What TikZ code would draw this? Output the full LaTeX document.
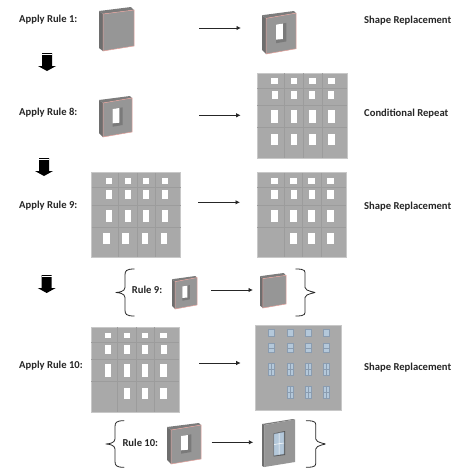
\documentclass[tikz,border=0pt]{standalone}
\usepackage{fontspec}
\setmainfont{Carlito}
\definecolor{wallface}{HTML}{969696}
\definecolor{wallside}{HTML}{6E6E6E}
\definecolor{walltop}{HTML}{7C7C7C}
\definecolor{recess}{HTML}{7A7A7A}
\definecolor{edgered}{HTML}{E6A09A}
\definecolor{facadefill}{HTML}{A9A9A9}
\definecolor{facadeline}{HTML}{9C9C9C}
\definecolor{facadeedge}{HTML}{C8C8C8}
\definecolor{frameblue}{HTML}{8A9CB0}
\definecolor{paneblue}{HTML}{B4C8DA}
\definecolor{inkdark}{HTML}{262626}
\usetikzlibrary{arrows.meta}
\tikzset{
  rulelabel/.style={font=\bfseries\fontsize{10.6}{12}\selectfont,text=inkdark,inner sep=0pt,anchor=west},
  flowarrow/.style={draw=inkdark,line width=0.9pt,-{Latex[length=4.5pt,width=4.5pt]}},
  bracestroke/.style={draw=inkdark,line width=0.8pt,line cap=round},
  redge/.style={draw=edgered,line width=0.5pt},
  winhole/.style={fill=white,draw=none},
  gridline/.style={draw=facadeline,line width=0.4pt},
  facadebody/.style={fill=facadefill,draw=facadeedge,line width=0.5pt},
  bluewin/.style={fill=paneblue,draw=frameblue,line width=0.7pt},
  blockarrow/.style={fill=black,draw=none}
}
% solid wall, local box 35 x 44
\newcommand{\solidwall}[4]{%
  \begin{scope}[shift={(#1,#2)},xscale=#3/35,yscale=#4/44]
    \fill[wallside] (0,4) -- (4,7) -- (4,44) -- (0,41) -- cycle;
    \fill[walltop] (0,4) -- (32,0) -- (35,3) -- (4,7) -- cycle;
    \fill[wallface] (4,7) -- (35,3) -- (35,39) -- (4,44) -- cycle;
    \draw[redge] (4,44) -- (4,7) -- (35,3) -- (35,39) -- cycle;
  \end{scope}}
% wall with opening, local box 33 x 41
\newcommand{\holewall}[4]{%
  \begin{scope}[shift={(#1,#2)},xscale=#3/33,yscale=#4/41]
    \fill[wallside] (0,4) -- (4,7) -- (4,41) -- (0,37) -- cycle;
    \fill[walltop] (0,4) -- (31,0) -- (33,2) -- (4,7) -- cycle;
    \fill[wallface] (4,7) -- (33,2) -- (33,36) -- (4,41) -- cycle;
    \fill[recess] (13.7,13) -- (23.7,11.3) -- (23.7,29) -- (13.7,30.7) -- cycle;
    \fill[winhole] (13.7,13) -- (20.3,12) -- (20.3,26.7) -- (13.7,27.3) -- cycle;
    \draw[redge] (4,41) -- (4,7) -- (33,2) -- (33,36) -- cycle;
  \end{scope}}
% facade, local box 90 x 85; #5 = list of bottom-row columns
\newcommand{\facade}[5]{%
  \begin{scope}[shift={(#1,#2)},xscale=#3/90,yscale=#4/85]
    \path[facadebody] (0,0) rectangle (90,85);
    \foreach \gy in {14.7,32.3,54.3} {\draw[gridline] (0,\gy) -- (90,\gy);}
    \foreach \gx in {26.7,45.7,64.4} {\draw[gridline] (\gx,0) -- (\gx,85);}
    \foreach \cx in {17.4,36.7,55,74} {
      \path[winhole] (\cx-3.3,5.3) rectangle (\cx+3.3,11);
      \path[winhole] (\cx-3.1,17.7) rectangle (\cx+3.1,26.3);
      \path[winhole] (\cx-3.3,37) rectangle (\cx+3.3,49.7);
    }
    \foreach \cx in {#5} {\path[winhole] (\cx-3.3,60.3) rectangle (\cx+3.3,72);}
  \end{scope}}
\newcommand{\blockdown}[3]{% centre x, top y, tip y
  \path[blockarrow] (#1-5,#2) -- (#1+5,#2) -- (#1+5,#3-5) -- (#1+9,#3-5) -- (#1,#3) -- (#1-9,#3-5) -- (#1-5,#3-5) -- cycle;
  \draw[white,line width=0.3pt] (#1-5,#2+1.3) -- (#1+5,#2+1.3);}
\newcommand{\leftbrace}[5]{% tip x, spine x, end x, y top, y bottom
  \draw[bracestroke] (#3,#4) .. controls (#2+1,#4) and (#2,#4+2) .. (#2,#4+6)
    -- (#2,{(#4+#5)/2-5}) .. controls (#2,{(#4+#5)/2-1}) and (#1+3,{(#4+#5)/2}) .. (#1,{(#4+#5)/2})
    .. controls (#1+3,{(#4+#5)/2}) and (#2,{(#4+#5)/2+1}) .. (#2,{(#4+#5)/2+5})
    -- (#2,#5-6) .. controls (#2,#5-2) and (#2+1,#5) .. (#3,#5);}
\begin{document}
\begin{tikzpicture}[x=1pt,y=-1pt]
\useasboundingbox (0,0) rectangle (458,469);
\fill[white] (0,0) rectangle (458,469);
% walls
\solidwall{99}{7}{35}{44}
\holewall{262}{11}{34}{43}
\holewall{99}{96}{33}{41}
\holewall{172}{276}{25}{33}
\solidwall{260}{273}{26}{35}
\holewall{167}{423}{34}{41}
% facades
\facade{257.3}{73}{90}{85.3}{17.4,36.7,55,74}
\facade{91.7}{172.7}{89}{84.6}{15,34,54,73}
\facade{257.3}{172.7}{89}{84.6}{36.7,55,74}
\facade{91}{327.3}{88.3}{85}{36.7,55,74}
% blue facade
\path[facadebody] (255.3,325) rectangle (341.7,410.7);
\foreach \cx in {271.3,290,308.3,326.3} {
  \path[bluewin] (\cx-3,329.5) rectangle (\cx+3,336.5);
  \path[bluewin] (\cx-3,343) rectangle (\cx+3,352.5);
  \draw[frameblue,line width=0.3pt] (\cx-3,347.7) -- (\cx+3,347.7);
  \path[bluewin] (\cx-3,363) rectangle (\cx+3,375.5);
  \draw[frameblue,line width=0.3pt] (\cx-3,369) -- (\cx+3,369) (\cx,363) -- (\cx,375.5);
}
\foreach \cx in {290,308.3,326.3} {
  \path[bluewin] (\cx-3,386) rectangle (\cx+3,398.5);
  \draw[frameblue,line width=0.3pt] (\cx-3,392) -- (\cx+3,392) (\cx,386) -- (\cx,398.5);
}
% rule 10 result wall
\fill[walltop] (262,424) -- (264.3,425) -- (295,419.5) -- (293,419) -- cycle;
\fill[wallface] (264.3,425) -- (295,419.5) -- (295,462) -- (264.3,467) -- cycle;
\fill[wallside] (262,424) -- (264.3,425) -- (264.3,467) -- (262,466) -- cycle;
\fill[recess!70!black] (273.5,433.5) -- (285,431) -- (285,455) -- (273.5,456.5) -- cycle;
\path[bluewin,line width=0.3pt] (274,434) -- (284,432) -- (284,454) -- (274,455.5) -- cycle;
\draw[white,line width=0.5pt] (274,444.5) -- (284,443) (279,433) -- (279,455);
% flow arrows
\coordinate (a1s) at (199.3,28);   \coordinate (a1e) at (241,28);
\coordinate (a2s) at (199,115.3);  \coordinate (a2e) at (240.7,115.3);
\coordinate (a3s) at (198.3,202.3);\coordinate (a3e) at (240,202.3);
\coordinate (a4s) at (211,290);    \coordinate (a4e) at (253,290);
\coordinate (a5s) at (199,363);    \coordinate (a5e) at (240.7,363);
\coordinate (a6s) at (211.7,442.3);\coordinate (a6e) at (253.3,442.3);
\foreach \k in {1,...,6} {\draw[flowarrow] (a\k s) -- (a\k e);}
% block arrows
\blockdown{47}{53}{71}
\blockdown{44}{158}{176}
\blockdown{46.7}{275}{293}
% braces
\leftbrace{115.7}{125}{134.3}{269}{316}
\leftbrace{105.7}{115}{124}{420.7}{467.3}
\leftbrace{314.7}{305}{295.7}{269}{316}
\leftbrace{325}{315.7}{306.3}{420.7}{467.3}
% labels
\node[rulelabel] (r1) at (19,20) {Apply Rule 1:};
\node[rulelabel] (r8) at (19,112.7) {Apply Rule 8:};
\node[rulelabel] (r9) at (19,206) {Apply Rule 9:};
\node[rulelabel] (r10) at (19,366) {Apply Rule 10:};
\node[rulelabel] (s9) at (131.7,290.3) {Rule 9:};
\node[rulelabel] (s10) at (122.3,442.7) {Rule 10:};
\node[rulelabel] (t1) at (364,20.3) {Shape Replacement};
\node[rulelabel] (t2) at (364,113.3) {Conditional Repeat};
\node[rulelabel] (t3) at (364,207) {Shape Replacement};
\node[rulelabel] (t4) at (364,367.3) {Shape Replacement};
\end{tikzpicture}
\end{document}
